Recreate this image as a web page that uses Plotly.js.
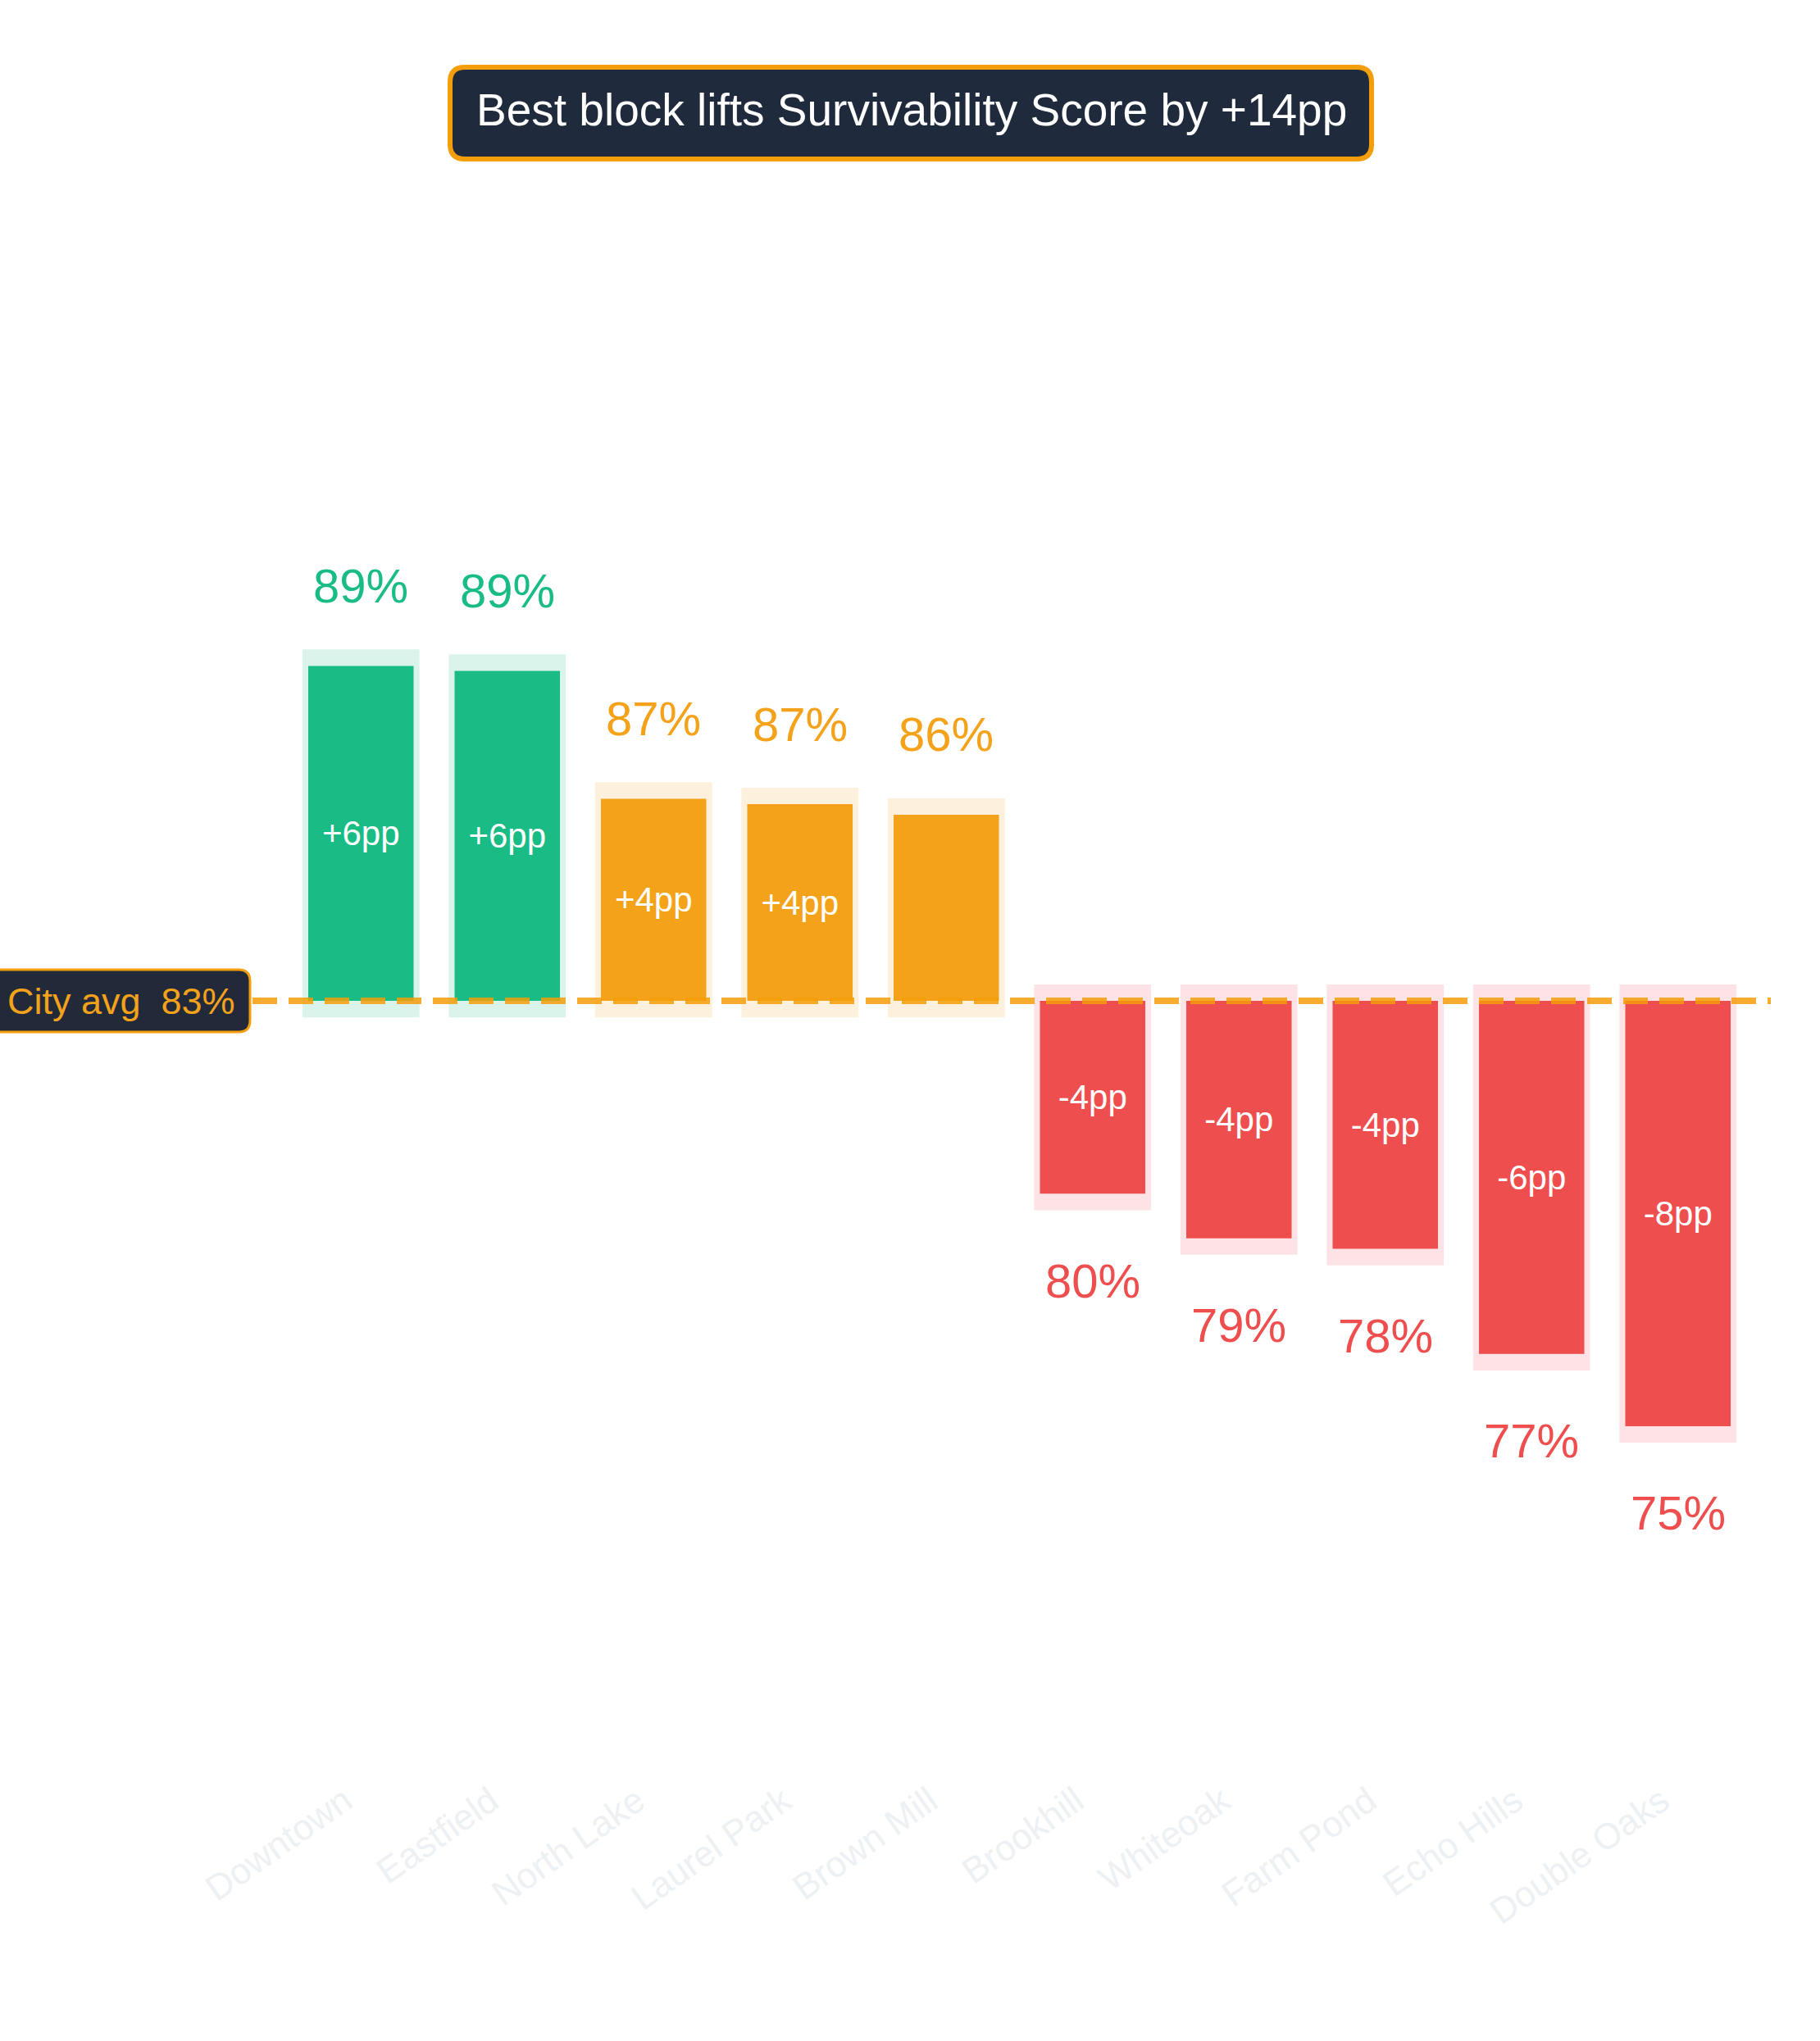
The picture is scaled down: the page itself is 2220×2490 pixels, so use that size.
<!DOCTYPE html>
<html>
<head>
<meta charset="utf-8">
<script src="https://cdn.plot.ly/plotly-3.0.1.min.js"></script>
<style>
  html, body { margin: 0; padding: 0; background: #ffffff; }
  #chart { width: 2220px; height: 2490px; }
</style>
</head>
<body>
<div id="chart"></div>
<script>
const neighborhoods = ["Downtown", "Eastfield", "North Lake", "Laurel Park", "Brown Mill",
  "Brookhill", "Whiteoak", "Farm Pond", "Echo Hills", "Double Oaks"];
const scores = [89.08, 88.99, 86.67, 86.57, 86.38, 79.5, 78.69, 78.5, 76.59, 75.28];
const cityAvg = 83.0;
const pctLabels = ["89%", "89%", "87%", "87%", "86%", "80%", "79%", "78%", "77%", "75%"];
const deltaLabels = ["+6pp", "+6pp", "+4pp", "+4pp", "", "-4pp", "-4pp", "-4pp", "-6pp", "-8pp"];
const headline = "Best block lifts Survivability Score by +14pp";

const W = 2220, H = 2490;
const M = { l: 351, r: 84, t: 260, b: 320 };
const plotW = W - M.l - M.r;
const plotH = H - M.t - M.b;
const FONT = "Liberation Sans, Arial, Helvetica, sans-serif";

const GREEN = "#1abc85", AMBER = "#f4a21a", RED = "#ef4e4e";
const GREEN_HALO = "#daf4eb", AMBER_HALO = "#fdf0dc", RED_HALO = "#fde3e5";
const NAVY = "#1f2a3c", BORDER = "#f59e0b";

const halo = 0.3;

function tier(v) {
  let d = v - cityAvg;
  if (d >= 5) return [GREEN, GREEN_HALO];
  if (d > 0) return [AMBER, AMBER_HALO];
  return [RED, RED_HALO];
}

// pixel -> paper helpers for the decoration boxes
function px(x) { return (x - M.l) / plotW; }
function py(y) { return (H - M.b - y) / plotH; }

function roundBox(x0, y0, x1, y1, r) {
  let p = (x, y) => px(x).toFixed(5) + "," + py(y).toFixed(5);
  return "M" + p(x0 + r, y0) + " L" + p(x1 - r, y0) +
    " Q" + p(x1, y0) + " " + p(x1, y0 + r) +
    " L" + p(x1, y1 - r) + " Q" + p(x1, y1) + " " + p(x1 - r, y1) +
    " L" + p(x0 + r, y1) + " Q" + p(x0, y1) + " " + p(x0, y1 - r) +
    " L" + p(x0, y0 + r) + " Q" + p(x0, y0) + " " + p(x0 + r, y0) + " Z";
}

let deltas = scores.map((v) => v - cityAvg);
let colors = scores.map((v) => tier(v)[0]);
let haloColors = scores.map((v) => tier(v)[1]);

let haloTrace = {
  type: "bar",
  x: neighborhoods,
  y: deltas.map((d) => d + (d > 0 ? 2 * halo : -2 * halo)),
  base: deltas.map((d) => cityAvg + (d > 0 ? -halo : halo)),
  width: 0.8,
  marker: { color: haloColors, line: { width: 0 } },
  hoverinfo: "skip",
};

let barTrace = {
  type: "bar",
  x: neighborhoods,
  y: deltas,
  base: cityAvg,
  width: 0.72,
  marker: { color: colors, line: { width: 0 } },
  text: deltaLabels,
  textposition: "inside",
  insidetextanchor: "middle",
  textangle: 0,
  insidetextfont: { family: FONT, size: 42, color: "#ffffff" },
  cliponaxis: false,
};

let annotations = scores.map((v, i) => ({
  x: neighborhoods[i],
  y: v,
  xref: "x",
  yref: "y",
  text: pctLabels[i],
  showarrow: false,
  yanchor: "middle",
  yshift: deltas[i] > 0 ? 98 : -106,
  font: { family: FONT, size: 58, color: colors[i] },
}));

annotations.push({
  xref: "paper",
  yref: "paper",
  x: px(1112),
  y: py(134),
  text: headline,
  showarrow: false,
  xanchor: "center",
  yanchor: "middle",
  font: { family: FONT, size: 55, color: "#ffffff" },
});

annotations.push({
  xref: "paper",
  yref: "y",
  x: px(289),
  y: cityAvg,
  text: "City avg  " + Math.round(cityAvg) + "%",
  showarrow: false,
  xanchor: "right",
  yanchor: "middle",
  font: { family: FONT, size: 45, color: AMBER },
});

let shapes = [
  {
    type: "line",
    xref: "paper",
    yref: "y",
    x0: px(0),
    x1: px(2160),
    y0: cityAvg,
    y1: cityAvg,
    line: { color: "rgba(245,158,11,0.85)", width: 8, dash: "30px,14px" },
    layer: "above",
  },
  {
    type: "path",
    xref: "paper",
    yref: "paper",
    path: roundBox(549, 82, 1673, 194, 18),
    fillcolor: NAVY,
    line: { color: BORDER, width: 6 },
    layer: "above",
  },
  {
    type: "path",
    xref: "paper",
    yref: "paper",
    path: roundBox(-40, 1183, 305, 1259, 14),
    fillcolor: "#222a3a",
    line: { color: BORDER, width: 3 },
    layer: "above",
  },
];

let layout = {
  width: W,
  height: H,
  margin: M,
  paper_bgcolor: "#ffffff",
  plot_bgcolor: "#ffffff",
  barmode: "overlay",
  showlegend: false,
  xaxis: {
    type: "category",
    range: [-0.5, 9.5],
    showgrid: false,
    zeroline: false,
    showline: false,
    ticks: "",
    tickangle: -35,
    ticklabelshift: -20,
    ticklabelstandoff: -8,
    tickfont: { family: FONT, size: 44, color: "#eef1f4" },
  },
  yaxis: {
    range: [68.88, 97.3],
    visible: false,
    showgrid: false,
    zeroline: false,
  },
  shapes: shapes,
  annotations: annotations,
};

Plotly.newPlot("chart", [haloTrace, barTrace], layout, { staticPlot: true });
</script>
</body>
</html>
